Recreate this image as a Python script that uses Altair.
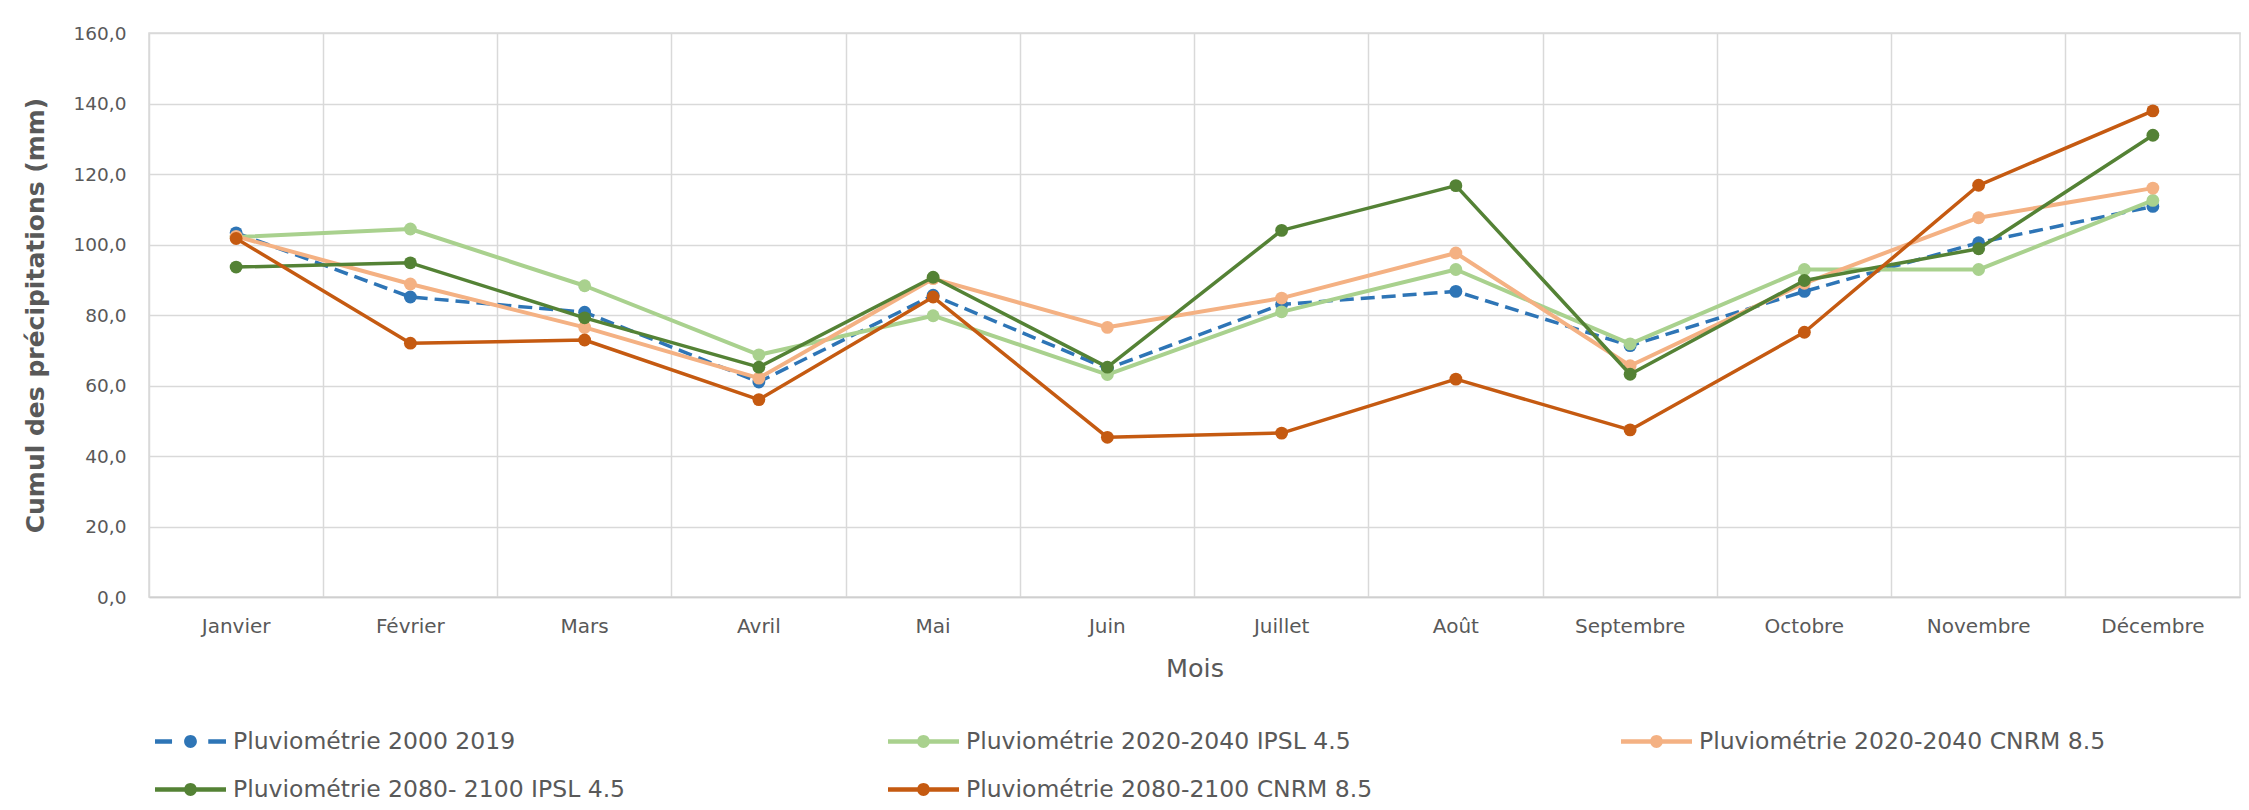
import altair as alt
import pandas as pd

mois = ["Janvier", "Février", "Mars", "Avril", "Mai", "Juin", "Juillet",
        "Août", "Septembre", "Octobre", "Novembre", "Décembre"]

series = ["Pluviométrie 2000 2019",
          "Pluviométrie 2020-2040 IPSL 4.5",
          "Pluviométrie 2020-2040 CNRM 8.5",
          "Pluviométrie 2080- 2100 IPSL 4.5",
          "Pluviométrie 2080-2100 CNRM 8.5"]
couleurs = ["#2E75B6", "#A9D18E", "#F4B183", "#548235", "#C55A11"]

pluvio_2000_2019 = [103.3, 85.1, 80.8, 61.0, 85.6, 64.8, 83.0, 86.7, 71.3, 86.7, 100.5, 110.8]
ipsl_2020_2040 = [102.1, 104.4, 88.3, 68.7, 79.8, 63.1, 80.9, 92.9, 71.8, 92.9, 92.9, 112.5]
cnrm_2020_2040 = [102.3, 88.8, 76.5, 62.1, 90.3, 76.5, 84.8, 97.6, 65.6, 89.0, 107.6, 116.0]
ipsl_2080_2100 = [93.6, 94.8, 79.2, 65.2, 90.7, 65.2, 104.0, 116.7, 63.2, 89.8, 98.8, 131.0]
cnrm_2080_2100 = [101.7, 72.0, 72.9, 56.0, 85.1, 45.3, 46.5, 61.8, 47.4, 75.1, 116.8, 137.9]
valeurs = [pluvio_2000_2019, ipsl_2020_2040, cnrm_2020_2040, ipsl_2080_2100, cnrm_2080_2100]

y_ticks = [0, 20, 40, 60, 80, 100, 120, 140, 160]

FONT = "DejaVu Sans"
TXT = "#595959"
GRID = "#D9D9D9"

W, H = 2091, 564

SOLID = ("M-1,-0.06L1,-0.06L1,0.06L-1,0.06Z "
         "M0.18,0A0.18,0.18 0 1,1 -0.18,0A0.18,0.18 0 1,1 0.18,0Z")
DASHED = ("M-1,-0.06L-0.52,-0.06L-0.52,0.06L-1,0.06Z "
          "M0.5,-0.06L1,-0.06L1,0.06L0.5,0.06Z "
          "M0.18,0A0.18,0.18 0 1,1 -0.18,0A0.18,0.18 0 1,1 0.18,0Z")

legend = alt.Legend(
    title=None, orient="none", legendX=6, legendY=673, columns=3,
    direction="horizontal",
    labelFont=FONT, labelFontSize=23.5, labelColor=TXT, labelLimit=1000,
    labelOffset=7, symbolSize=5041,
    symbolType=alt.ExprRef(expr="datum.value === '" + series[0] + "' ? '" + DASHED + "' : '" + SOLID + "'"),
    symbolStrokeWidth=0, symbolOpacity=1,
    padding=0, columnPadding=248, rowPadding=1, gridAlign="all",
)

x_axis = alt.Axis(
    title="Mois", bandPosition=0, grid=True, gridColor=GRID,
    gridWidth=1.5, ticks=False, domain=True, domainColor="#CFCFCF", domainWidth=1.5,
    labelFont=FONT, labelFontSize=20, labelColor=TXT, labelPadding=19, labelAngle=0,
    titleFont=FONT, titleFontSize=25.5, titleFontWeight="normal", titleColor=TXT,
    titleY=71, titleBaseline="middle",
)
y_axis = alt.Axis(
    title="Cumul des précipitations (mm)", values=y_ticks, grid=True, gridColor=GRID,
    gridWidth=1.5, ticks=False, tickSize=0, domain=False,
    labelExpr="replace(format(datum.value, '.1f'), '.', ',')",
    labelFont=FONT, labelFontSize=18.5, labelColor=TXT, labelPadding=23,
    titleFont=FONT, titleFontSize=25, titleFontWeight="bold", titleColor=TXT,
    titleX=-114, titleY=H / 2, titleAngle=-90, titleAlign="center", titleBaseline="middle",
)

color_scale = alt.Scale(domain=series, range=couleurs)
x_enc = alt.X("Mois:N", sort=mois, axis=x_axis,
              scale=alt.Scale(type="band", paddingInner=0, paddingOuter=0))
y_enc = alt.Y("Valeur:Q", axis=y_axis, scale=alt.Scale(domain=[0, 160], nice=False))
c_enc = alt.Color("Serie:N", scale=color_scale, legend=legend)

frames = [pd.DataFrame({"Mois": mois, "Valeur": vals, "Serie": nom})
          for nom, vals in zip(series, valeurs)]
all_df = pd.concat(frames, ignore_index=True)

# first layer: filled points (size 0) so the legend uses filled symbols
layers = [alt.Chart(all_df).mark_point(filled=True, size=0, opacity=1)
          .encode(x=x_enc, y=y_enc, color=c_enc)]
for i, df in enumerate(frames):
    base = alt.Chart(df).encode(x=x_enc, y=y_enc, color=c_enc)
    sw = 4 if i in (1, 2) else 3.5
    if i == 0:
        line = base.mark_line(strokeWidth=sw, strokeDash=[14, 7])
    else:
        line = base.mark_line(strokeWidth=sw, strokeJoin="round")
    pts = base.mark_point(filled=True, size=165, opacity=1)
    layers += [line, pts]

chart = alt.layer(*layers).properties(
    width=W, height=H,
    autosize=alt.AutoSizeParams(type="none"),
    padding={"left": 141, "top": 25, "right": 1, "bottom": 207},
    background="white",
).configure_view(stroke=GRID, strokeWidth=1.5)

chart.save("out.html", embed_options={"renderer": "svg", "actions": False})
